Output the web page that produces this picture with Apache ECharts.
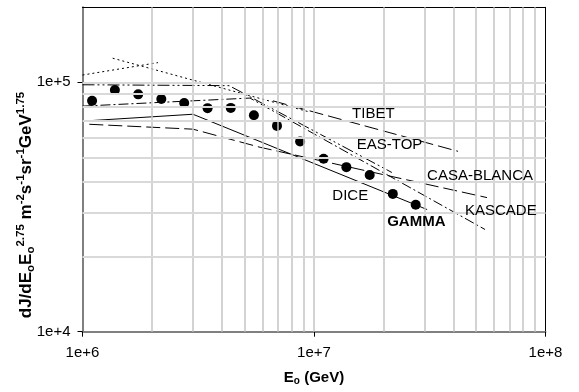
<!DOCTYPE html>
<html>
<head>
<meta charset="utf-8">
<script src="https://cdn.jsdelivr.net/npm/echarts@6/dist/echarts.min.js"></script>
<style>
  html, body { margin: 0; padding: 0; background: #fff; }
  #chart { width: 579px; height: 392px; }
</style>
</head>
<body>
<div id="chart"></div>
<script>
// GAMMA points
const gammaE = [1.1e6, 1.38e6, 1.74e6, 2.19e6, 2.75e6, 3.47e6, 4.37e6, 5.5e6, 6.92e6, 8.71e6, 1.1e7, 1.38e7, 1.74e7, 2.19e7, 2.75e7]
const gammaJ = [84300, 93100, 89500, 85700, 82600, 78800, 79000, 73800, 66900, 57900, 49400, 45700, 42500, 35700, 32300]

// other experiments, broken power laws [E, J]
const dottedA = [[1e6, 1.07e5], [2.12e6, 1.2e5]]
const dottedB = [[1.35e6, 1.25e5], [9.6e6, 7.6e4]]
const easTop = [[1e6, 9.78e4], [4.3e6, 9.7e4], [2.17e7, 4.35e4]]
const tibet = [[6.65e6, 8.43e4], [4.19e7, 5.29e4]]
const kascade = [[1e6, 8.03e4], [5.29e6, 8.65e4], [5.48e7, 2.57e4]]
const dice = [[1e6, 6.99e4], [3.0e6, 7.45e4], [3.08e7, 3.09e4]]
const casaBlanca = [[1.07e6, 6.79e4], [3.0e6, 6.49e4], [5.85e6, 5.49e4], [5.59e7, 3.45e4]]

const xTicks = [1e6, 1e7, 1e8]
const yTicks = [1e4, 1e5]
const xGrid = [2e6, 3e6, 4e6, 5e6, 6e6, 7e6, 8e6, 9e6, 1e7, 2e7, 3e7, 4e7, 5e7, 6e7, 7e7, 8e7, 9e7]
const yGrid = [2e4, 3e4, 4e4, 5e4, 6e4, 7e4, 8e4, 9e4, 1e5]

// text labels: [name, E, J]
const labels = [
  ['TIBET', 1.46e7, 7.45e4],
  ['EAS-TOP', 1.53e7, 5.59e4],
  ['CASA-BLANCA', 3.08e7, 4.23e4],
  ['DICE', 1.2e7, 3.49e4],
  ['KASCADE', 4.49e7, 3.06e4],
  ['GAMMA', 2.07e7, 2.76e4]
]

const FONT = 'Liberation Sans'
const myChart = echarts.init(document.getElementById('chart'))

const sci = (v) => {
  const p = Math.log10(v)
  if (Math.abs(p - Math.round(p)) > 1e-6) return ''
  return '1e+' + Math.round(p)
}

const lineSeries = (name, data, type) => ({
  name,
  type: 'line',
  data,
  symbol: 'none',
  z: 3,
  silent: true,
  lineStyle: { color: '#000', width: 1, type }
})

const option = {
  animation: false,
  grid: { left: 82.5, right: 33.5, top: 7.3, bottom: 60.3, outerBoundsMode: 'none', containLabel: false },
  xAxis: [
    {
      type: 'log',
      logBase: 10,
      min: 1e6,
      max: 1e8,
      name: '{b|E}{s|o}{b| (GeV)}',
      nameLocation: 'middle',
      nameGap: 37,
      nameTextStyle: {
        rich: {
          b: { fontFamily: FONT, fontSize: 15, fontWeight: 'bold', color: '#000', lineHeight: 18, verticalAlign: 'middle' },
          s: { fontFamily: FONT, fontSize: 10, fontWeight: 'bold', color: '#000', lineHeight: 18, verticalAlign: 'bottom', padding: [8, 0, 0, 0] }
        }
      },
      axisLine: { show: true, lineStyle: { color: '#808080', width: 2 } },
      axisTick: { show: true, length: 5, lineStyle: { color: '#000' }, customValues: xTicks },
      axisLabel: { color: '#000', fontFamily: FONT, fontSize: 15, margin: 14, formatter: sci, customValues: xTicks },
      splitLine: { show: false }
    },
    {
      type: 'log', logBase: 10, min: 1e6, max: 1e8, position: 'top',
      axisLine: { show: true, lineStyle: { color: '#000', width: 1 } },
      axisTick: { show: false }, axisLabel: { show: false }, splitLine: { show: false }
    }
  ],
  yAxis: [
    {
      type: 'log',
      logBase: 10,
      min: 1e4,
      max: 2e5,
      axisLine: { show: true, lineStyle: { color: '#808080', width: 2 } },
      axisTick: { show: true, length: 5, lineStyle: { color: '#000' }, customValues: yTicks },
      axisLabel: { color: '#000', fontFamily: FONT, fontSize: 15, margin: 12, formatter: sci, customValues: yTicks },
      splitLine: { show: false }
    },
    {
      type: 'log', logBase: 10, min: 1e4, max: 2e5, position: 'right',
      axisLine: { show: true, lineStyle: { color: '#000', width: 1 } },
      axisTick: { show: false }, axisLabel: { show: false }, splitLine: { show: false }
    }
  ],
  graphic: [
    {
      type: 'text',
      x: 26,
      y: 205,
      rotation: Math.PI / 2,
      style: {
        text: '{b|dJ/dE}{s|o}{b|E}{s|o}{p|2.75}{b| m}{p|-2}{b|s}{p|-1}{b|sr}{p|-1}{b|GeV}{p|1.75}',
        align: 'center',
        verticalAlign: 'middle',
        rich: {
          b: { fontFamily: FONT, fontSize: 17, fontWeight: 'bold', fill: '#000', lineHeight: 22, verticalAlign: 'middle' },
          s: { fontFamily: FONT, fontSize: 11.5, fontWeight: 'bold', fill: '#000', lineHeight: 22, verticalAlign: 'bottom' },
          p: { fontFamily: FONT, fontSize: 11.5, fontWeight: 'bold', fill: '#000', lineHeight: 22, verticalAlign: 'top' }
        }
      }
    }
  ],
  series: [
    {
      type: 'line',
      data: [],
      z: 1,
      silent: true,
      markLine: {
        silent: true,
        symbol: 'none',
        animation: false,
        label: { show: false },
        data: xGrid.map((v) => ({ xAxis: v, lineStyle: { color: '#c4c4c4', width: 1.5, type: 'solid' } }))
          .concat(yGrid.map((v) => ({ yAxis: v, lineStyle: { color: '#d9d9d9', width: 2, type: 'solid' } })))
      }
    },
    lineSeries('dottedA', dottedA, [2, 3]),
    lineSeries('dottedB', dottedB, [2, 3]),
    lineSeries('EAS-TOP', easTop, [12, 3, 2, 3, 2, 3]),
    lineSeries('TIBET', tibet, [14, 5]),
    lineSeries('KASCADE', kascade, [10, 3, 2, 3]),
    lineSeries('DICE', dice, 'solid'),
    lineSeries('CASA-BLANCA', casaBlanca, [14, 5]),
    {
      name: 'GAMMA',
      type: 'scatter',
      data: gammaE.map((e, i) => [e, gammaJ[i]]),
      symbol: 'circle',
      symbolSize: 10,
      z: 4,
      itemStyle: { color: '#000', opacity: 1 },
      markPoint: {
        symbol: 'circle',
        symbolSize: 0,
        silent: true,
        data: labels.map((l) => ({
          coord: [l[1], l[2]],
          label: {
            show: true,
            position: 'right',
            distance: 0,
            formatter: l[0],
            color: '#000',
            fontFamily: FONT,
            fontSize: 15,
            fontWeight: l[0] === 'GAMMA' ? 'bold' : 'normal'
          }
        }))
      }
    }
  ]
}

myChart.setOption(option)
</script>
</body>
</html>
